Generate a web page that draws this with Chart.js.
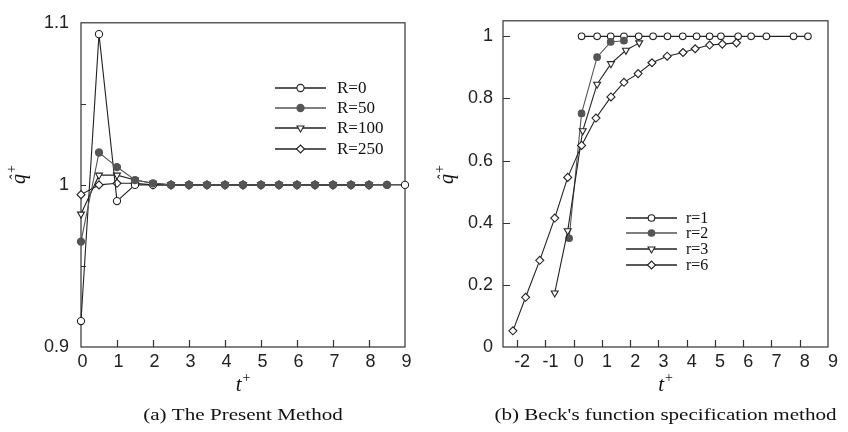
<!DOCTYPE html>
<html>
<head>
<meta charset="utf-8">
<script src="https://cdn.jsdelivr.net/npm/chart.js@4.4.0/dist/chart.umd.min.js"></script>
<style>
  html, body { margin: 0; padding: 0; background: #fff; }
  #wrap { position: relative; width: 848px; height: 432px; }
  .panel { position: absolute; top: 0; width: 424px; height: 432px; }
</style>
</head>
<body>
<div id="wrap">
  <div class="panel" style="left:0"><canvas id="left" width="424" height="432"></canvas></div>
  <div class="panel" style="left:424px"><canvas id="right" width="424" height="432"></canvas></div>
</div>
<script>
// ---- (a) The Present Method ----
const tLeft = [0, 0.5, 1, 1.5, 2, 2.5, 3, 3.5, 4, 4.5, 5, 5.5, 6, 6.5, 7, 7.5, 8, 8.5, 9];
const qR0   = [0.916, 1.093, 0.990, 1.000, 1.000, 1, 1, 1, 1, 1, 1, 1, 1, 1, 1, 1, 1, 1, 1];
const qR50  = [0.965, 1.020, 1.011, 1.003, 1.001, 1, 1, 1, 1, 1, 1, 1, 1, 1, 1, 1, 1, 1];
const qR100 = [0.982, 1.006, 1.006, 1.003, 1.001, 1, 1, 1, 1, 1, 1, 1, 1, 1, 1, 1, 1];
const qR250 = [0.994, 1.000, 1.001, 1.001, 1.000, 1, 1, 1, 1, 1, 1, 1, 1, 1, 1, 1, 1];
const leftNames = ['R=0', 'R=50', 'R=100', 'R=250'];
const leftXTicks = [0, 1, 2, 3, 4, 5, 6, 7, 8, 9];
const leftYTicks = [0.9, 0.95, 1, 1.05, 1.1];
const leftYLabels = ['0.9', '', '1', '', '1.1'];

// ---- (b) Beck's function specification method ----
const tR1 = [0.28, 0.83, 1.31, 1.78, 2.30, 2.81, 3.32, 3.86, 4.35, 4.81, 5.21, 5.82, 6.28, 6.82, 7.78, 8.29];
const qR1 = [1, 1, 1, 1, 1, 1, 1, 1, 1, 1, 1, 1, 1, 1, 1, 1];
const tR2 = [-0.16, 0.28, 0.83, 1.31, 1.78];
const qR2 = [0.35, 0.752, 0.933, 0.982, 0.986];
const tR3 = [-0.67, -0.21, 0.32, 0.83, 1.32, 1.85, 2.32];
const qR3 = [0.174, 0.374, 0.696, 0.846, 0.912, 0.955, 0.979];
const tR6 = [-2.15, -1.70, -1.20, -0.67, -0.21, 0.28, 0.79, 1.32, 1.78, 2.28, 2.77, 3.31, 3.87, 4.30, 4.81, 5.26, 5.76];
const qR6 = [0.052, 0.160, 0.279, 0.415, 0.546, 0.649, 0.737, 0.805, 0.852, 0.880, 0.915, 0.936, 0.948, 0.960, 0.972, 0.975, 0.979];
const rightNames = ['r=1', 'r=2', 'r=3', 'r=6'];
const rightXTicks = [-2, -1, 0, 1, 2, 3, 4, 5, 6, 7, 8, 9];
const rightYTicks = [0, 0.2, 0.4, 0.6, 0.8, 1];
const rightYLabels = ['0', '0.2', '0.4', '0.6', '0.8', '1'];

const INK = '#222';
const tickFont = { family: 'Liberation Sans', size: 18 };

function pts(xs, ys) {
    return ys.map((y, i) => ({ x: xs[i], y: y }));
}

function series(label, xs, ys, style, radius, fill, rotation, order) {
    return {
        label: label,
        data: pts(xs, ys),
        showLine: true,
        order: order,
        borderColor: fill === '#fff' ? INK : '#555',
        borderWidth: 1.1,
        pointStyle: style,
        pointRadius: radius,
        pointRotation: rotation || 0,
        pointBackgroundColor: fill,
        pointBorderColor: fill === '#fff' ? INK : '#555',
        pointBorderWidth: 1.1,
        clip: false
    };
}

// box, inner tick marks, legend, titles and caption
const decor = {
    id: 'decor',
    beforeDatasetsDraw(chart, args, o) {
        const ctx = chart.ctx, a = chart.chartArea;
        const xs = chart.scales.x, ys = chart.scales.y;
        ctx.save();
        ctx.strokeStyle = '#333';
        ctx.lineWidth = 1.2;
        ctx.strokeRect(a.left, a.top, a.right - a.left, a.bottom - a.top);
        ctx.beginPath();
        xs.ticks.forEach(t => {
            if (t.value <= xs.min || t.value >= xs.max) return;
            const px = Math.round(xs.getPixelForValue(t.value)) + 0.5;
            ctx.moveTo(px, a.bottom);
            ctx.lineTo(px, a.bottom - o.xTick);
        });
        ys.ticks.forEach(t => {
            if (t.value <= ys.min || t.value >= ys.max) return;
            const py = Math.round(ys.getPixelForValue(t.value)) + 0.5;
            ctx.moveTo(a.left, py);
            ctx.lineTo(a.left + o.yTick, py);
        });
        ctx.stroke();
        ctx.restore();
    },
    afterDraw(chart, args, o) {
        const ctx = chart.ctx, a = chart.chartArea;
        ctx.save();
        // legend
        chart.data.datasets.forEach((ds, i) => {
            const y = o.legendRows[i];
            ctx.strokeStyle = ds.borderColor;
            ctx.lineWidth = 1.4;
            ctx.beginPath();
            ctx.moveTo(o.legendX[0], y);
            ctx.lineTo(o.legendX[1], y);
            ctx.stroke();
            ctx.fillStyle = ds.pointBackgroundColor;
            ctx.strokeStyle = ds.pointBorderColor;
            ctx.lineWidth = 1.1;
            Chart.helpers.drawPoint(ctx, {
                pointStyle: ds.pointStyle, radius: ds.pointRadius,
                rotation: ds.pointRotation, borderWidth: 1.1
            }, (o.legendX[0] + o.legendX[1]) / 2, y);
            ctx.fillStyle = '#111';
            ctx.font = o.legendFont + 'px "Liberation Serif"';
            ctx.textAlign = 'left';
            ctx.textBaseline = 'middle';
            ctx.fillText(ds.label, o.legendTextX, y + 1);
        });

        ctx.fillStyle = '#111';
        ctx.textBaseline = 'alphabetic';
        const cx = (a.left + a.right) / 2;

        // x title: t+
        ctx.font = 'italic 21px "Liberation Serif"';
        const tw = ctx.measureText('t').width;
        ctx.font = '14px "Liberation Serif"';
        const pw = ctx.measureText('+').width;
        const x0 = cx - (tw + pw + 1) / 2;
        ctx.font = 'italic 21px "Liberation Serif"';
        ctx.textAlign = 'left';
        ctx.fillText('t', x0, 391);
        ctx.font = '14px "Liberation Serif"';
        ctx.fillText('+', x0 + tw + 1, 382);

        // y title: q hat +
        ctx.save();
        ctx.translate(o.yTitleX, o.yTitleY);
        ctx.rotate(-Math.PI / 2);
        ctx.font = 'italic 20px "Liberation Serif"';
        const qw = ctx.measureText('q').width;
        ctx.fillText('q', 0, 0);
        ctx.font = 'italic 16px "Liberation Serif"';
        ctx.textAlign = 'center';
        ctx.fillText('\u02C6', qw / 2 + 1, -4);
        ctx.font = '14px "Liberation Serif"';
        ctx.textAlign = 'left';
        ctx.fillText('+', qw + 1, -9);
        ctx.restore();

        // caption, set a little wide like the printed figure
        ctx.save();
        ctx.font = '17px "Liberation Serif"';
        ctx.translate(cx, 420);
        ctx.scale(1.24, 1);
        ctx.textAlign = 'center';
        ctx.fillText(o.caption, 0, 0);
        ctx.restore();

        ctx.restore();
    }
};

function panel(id, datasets, xr, yr, o) {
    return new Chart(document.getElementById(id), {
        type: 'scatter',
        data: { datasets: datasets },
        plugins: [decor],
        options: {
            responsive: false,
            animation: false,
            events: [],
            layout: { padding: { left: 0, right: o.padRight, top: 14, bottom: 0 } },
            plugins: {
                legend: { display: false },
                tooltip: { enabled: false },
                decor: o
            },
            scales: {
                x: {
                    type: 'linear',
                    min: xr.min, max: xr.max,
                    afterBuildTicks: s => { s.ticks = xr.ticks.map(v => ({ value: v })); },
                    afterFit: s => { s.height = 85; },
                    grid: { display: false, drawTicks: false },
                    border: { display: false },
                    ticks: {
                        font: tickFont, color: INK, padding: 4,
                        labelOffset: o.xLabelOffset,
                        autoSkip: false, maxRotation: 0,
                        callback: v => String(v)
                    }
                },
                y: {
                    type: 'linear',
                    min: yr.min, max: yr.max,
                    afterBuildTicks: s => { s.ticks = yr.ticks.map(v => ({ value: v })); },
                    afterFit: s => { s.width = o.yWidth; },
                    grid: { display: false, drawTicks: false },
                    border: { display: false },
                    ticks: {
                        font: tickFont, color: INK, padding: o.yPad,
                        autoSkip: false,
                        callback: (v, i) => yr.labels[i]
                    }
                }
            }
        }
    });
}

// R=50 dots sit on top of the other markers, as in the print
panel('left', [
    series(leftNames[0], tLeft, qR0, 'circle', 3.6, '#fff', 0, 2),
    series(leftNames[1], tLeft, qR50, 'circle', 3.6, '#555', 0, 0),
    series(leftNames[2], tLeft, qR100, 'triangle', 4, '#fff', 180, 3),
    series(leftNames[3], tLeft, qR250, 'rectRot', 4, '#fff', 0, 4)
], { min: 0, max: 9, ticks: leftXTicks },
   { min: 0.9, max: 1.1, ticks: leftYTicks, labels: leftYLabels },
   {
       padRight: 19, yWidth: 81, yPad: 12, xLabelOffset: 1.5,
       xTick: 7, yTick: 5,
       legendX: [275, 326], legendTextX: 337, legendRows: [88, 108, 128, 149], legendFont: 17,
       yTitleX: 25, yTitleY: 184,
       caption: '(a) The Present Method'
   });

panel('right', [
    series(rightNames[0], tR1, qR1, 'circle', 3.3, '#fff', 0, 4),
    series(rightNames[1], tR2, qR2, 'circle', 3.3, '#555', 0, 3),
    series(rightNames[2], tR3, qR3, 'triangle', 4, '#fff', 180, 2),
    series(rightNames[3], tR6, qR6, 'rectRot', 4, '#fff', 0, 1)
], { min: -2.5, max: 9, ticks: rightXTicks },
   { min: 0, max: 1.05, ticks: rightYTicks, labels: rightYLabels },
   {
       padRight: 20, yWidth: 79, yPad: 10, xLabelOffset: 5,
       xTick: 7, yTick: 7,
       legendX: [202, 253], legendTextX: 262, legendRows: [218, 233, 249, 265], legendFont: 16,
       yTitleX: 29, yTitleY: 184,
       caption: "(b) Beck's function specification method"
   });
</script>
</body>
</html>
